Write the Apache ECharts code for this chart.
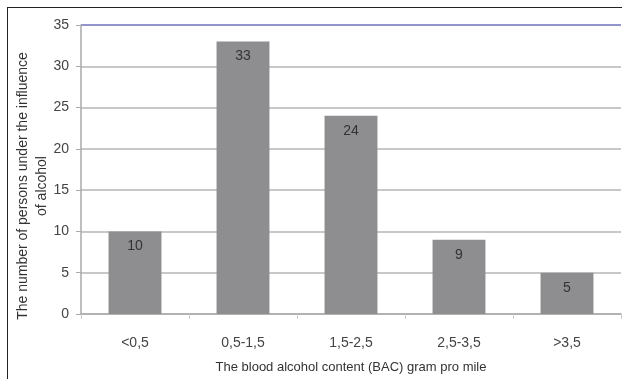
<!DOCTYPE html>
<html>
<head>
<meta charset="utf-8">
<script src="https://cdn.jsdelivr.net/npm/echarts@6/dist/echarts.min.js"></script>
<style>
html,body{margin:0;padding:0;background:#fff;}
#frame{position:absolute;left:7px;top:7px;width:615px;height:372px;border-left:1.5px solid #222;border-top:1.5px solid #222;box-sizing:border-box;}
#chart{position:absolute;left:0;top:0;width:622px;height:379px;}
</style>
</head>
<body>
<div id="frame"></div>
<div id="chart"></div>
<script>
// BAC ranges and number of persons in each range
const categories = ['<0,5', '0,5-1,5', '1,5-2,5', '2,5-3,5', '>3,5'];
const persons = [10, 33, 24, 9, 5];
const yTicks = [0, 5, 10, 15, 20, 25, 30, 35];
const yTitle = 'The number of persons under the influence\nof alcohol';
const xTitle = 'The blood alcohol content (BAC) gram pro mile';

const chart = echarts.init(document.getElementById('chart'), null, {renderer: 'canvas'});
const font = 'Liberation Sans, Arial, sans-serif';

chart.setOption({
  animation: false,
  grid: {left: 81, right: 1, top: 25, bottom: 65, outerBoundsMode: 'none'},
  graphic: [{
    type: 'text',
    x: 33,
    y: 186,
    rotation: Math.PI / 2,
    style: {
      text: yTitle,
      fontFamily: font,
      fontSize: 14,
      lineHeight: 19,
      fill: '#333',
      align: 'center',
      verticalAlign: 'middle'
    }
  }],
  xAxis: {
    type: 'category',
    data: categories,
    name: xTitle,
    nameLocation: 'middle',
    nameGap: 47,
    nameTextStyle: {fontFamily: font, fontSize: 13, color: '#333', letterSpacing: -0.6},
    axisLine: {lineStyle: {color: '#aaa', width: 1.5}},
    axisTick: {show: true, alignWithLabel: false, length: 5, lineStyle: {color: '#ccc'}},
    axisLabel: {fontFamily: font, fontSize: 14, color: '#444', margin: 22, letterSpacing: 0.6}
  },
  yAxis: {
    type: 'value',
    min: yTicks[0],
    max: yTicks[yTicks.length - 1],
    interval: 5,
    axisLine: {show: true, lineStyle: {color: '#aaa', width: 1.5}},
    axisTick: {show: true, length: 5, lineStyle: {color: '#aaa'}},
    axisLabel: {fontFamily: font, fontSize: 14, color: '#444', margin: 12},
    splitLine: {
      show: true,
      lineStyle: {color: ['#c8c8c8', '#c8c8c8', '#c8c8c8', '#c8c8c8', '#c8c8c8', '#c8c8c8', '#c8c8c8', '#9494cc'], width: 2}
    }
  },
  series: [{
    type: 'bar',
    data: persons,
    barWidth: '49%',
    itemStyle: {color: '#8e8e91'},
    label: {
      show: true,
      position: 'insideTop',
      distance: 8,
      fontFamily: font,
      fontSize: 14,
      color: '#333'
    }
  }]
});
</script>
</body>
</html>
